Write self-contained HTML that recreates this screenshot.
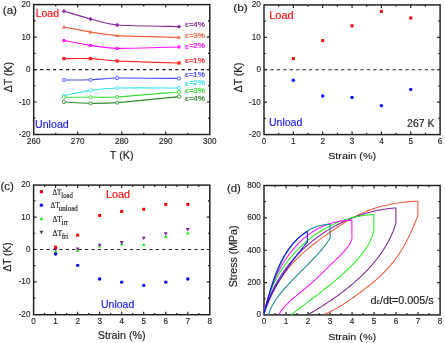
<!DOCTYPE html>
<html><head><meta charset="utf-8"><style>
html,body{margin:0;padding:0;background:#fff;width:445px;height:343px;overflow:hidden}
svg{display:block;will-change:transform}
</style></head><body>
<svg width="445" height="343" viewBox="0 0 445 343">
<rect width="445" height="343" fill="#fff"/>
<rect x="33.7" y="4.6" width="176.1" height="129.9" fill="none" stroke="#1e1e1e" stroke-width="1.45"/>
<path d="M77.73 134.5v-3M77.73 4.6v3M121.75 134.5v-3M121.75 4.6v3M165.78 134.5v-3M165.78 4.6v3M55.71 134.5v-1.8M55.71 4.6v1.8M99.74 134.5v-1.8M99.74 4.6v1.8M143.76 134.5v-1.8M143.76 4.6v1.8M187.79 134.5v-1.8M187.79 4.6v1.8M33.7 102.03h3M209.8 102.03h-3M33.7 69.55h3M209.8 69.55h-3M33.7 37.08h3M209.8 37.08h-3M33.7 118.26h1.8M209.8 118.26h-1.8M33.7 85.79h1.8M209.8 85.79h-1.8M33.7 53.31h1.8M209.8 53.31h-1.8M33.7 20.84h1.8M209.8 20.84h-1.8" stroke="#1e1e1e" stroke-width="1.15" fill="none"/>
<path d="M33.7 69.55H209.8" stroke="#1e1e1e" stroke-width="1.15" stroke-dasharray="3.2 3.23"/>
<path d="M63.9 11.2C67 12.11 84.28 17.39 90.5 19C96.72 20.61 106.88 24.11 117.2 25C127.53 25.89 171.79 26.41 179 26.6" fill="none" stroke="#8a28a0" stroke-width="1.15"/>
<path d="M63.9 9.05L66.05 11.2L63.9 13.34L61.75 11.2Z" fill="#8a28a0"/>
<path d="M90.5 16.86L92.64 19L90.5 21.14L88.36 19Z" fill="#8a28a0"/>
<path d="M117.2 22.86L119.34 25L117.2 27.14L115.06 25Z" fill="#8a28a0"/>
<path d="M179 24.46L181.15 26.6L179 28.75L176.85 26.6Z" fill="#8a28a0"/>
<path d="M63.9 27C67 27.58 84.28 31 90.5 32C96.72 33 106.88 34.97 117.2 35.6C127.53 36.23 171.79 37.19 179 37.4" fill="none" stroke="#f0603a" stroke-width="1.15"/>
<path d="M63.9 25.1L65.8 28.4L62 28.4Z" fill="#f0603a"/>
<path d="M90.5 30.1L92.4 33.4L88.6 33.4Z" fill="#f0603a"/>
<path d="M117.2 33.7L119.1 37L115.3 37Z" fill="#f0603a"/>
<path d="M179 35.5L180.9 38.8L177.1 38.8Z" fill="#f0603a"/>
<path d="M63.9 40.4C67 40.98 84.28 44.47 90.5 45.4C96.72 46.33 106.88 48.21 117.2 48.4C127.53 48.59 171.79 47.16 179 47" fill="none" stroke="#ff10ff" stroke-width="1.15"/>
<circle cx="63.9" cy="40.4" r="1.65" fill="#ff10ff"/>
<circle cx="90.5" cy="45.4" r="1.65" fill="#ff10ff"/>
<circle cx="117.2" cy="48.4" r="1.65" fill="#ff10ff"/>
<circle cx="179" cy="47" r="1.65" fill="#ff10ff"/>
<path d="M63.9 58.6C67 58.6 84.28 58.32 90.5 58.6C96.72 58.88 106.88 60.49 117.2 61C127.53 61.51 171.79 62.77 179 63" fill="none" stroke="#ff2020" stroke-width="1.15"/>
<rect x="62.25" y="56.95" width="3.3" height="3.3" fill="#ff2020"/>
<rect x="88.85" y="56.95" width="3.3" height="3.3" fill="#ff2020"/>
<rect x="115.55" y="59.35" width="3.3" height="3.3" fill="#ff2020"/>
<rect x="177.35" y="61.35" width="3.3" height="3.3" fill="#ff2020"/>
<path d="M63.9 80C67 79.98 84.28 80.03 90.5 79.8C96.72 79.57 106.88 78.16 117.2 78C127.53 77.84 171.79 78.35 179 78.4" fill="none" stroke="#4848ff" stroke-width="1.15"/>
<circle cx="63.9" cy="80" r="1.6" fill="#fff" stroke="#4848ff" stroke-width="0.9"/>
<circle cx="90.5" cy="79.8" r="1.6" fill="#fff" stroke="#4848ff" stroke-width="0.9"/>
<circle cx="117.2" cy="78" r="1.6" fill="#fff" stroke="#4848ff" stroke-width="0.9"/>
<circle cx="179" cy="78.4" r="1.6" fill="#fff" stroke="#4848ff" stroke-width="0.9"/>
<path d="M63.9 95.6C67 94.99 84.28 91.29 90.5 90.4C96.72 89.51 106.88 88.28 117.2 88C127.53 87.72 171.79 88 179 88" fill="none" stroke="#38e0f0" stroke-width="1.15"/>
<circle cx="63.9" cy="95.6" r="1.6" fill="#fff" stroke="#38e0f0" stroke-width="0.9"/>
<circle cx="90.5" cy="90.4" r="1.6" fill="#fff" stroke="#38e0f0" stroke-width="0.9"/>
<circle cx="117.2" cy="88" r="1.6" fill="#fff" stroke="#38e0f0" stroke-width="0.9"/>
<circle cx="179" cy="88" r="1.6" fill="#fff" stroke="#38e0f0" stroke-width="0.9"/>
<path d="M63.9 97.2C67 97.2 84.28 97.22 90.5 97.2C96.72 97.18 106.88 97.61 117.2 97C127.53 96.39 171.79 92.58 179 92" fill="none" stroke="#38dd38" stroke-width="1.15"/>
<circle cx="63.9" cy="97.2" r="1.6" fill="#fff" stroke="#38dd38" stroke-width="0.9"/>
<circle cx="90.5" cy="97.2" r="1.6" fill="#fff" stroke="#38dd38" stroke-width="0.9"/>
<circle cx="117.2" cy="97" r="1.6" fill="#fff" stroke="#38dd38" stroke-width="0.9"/>
<circle cx="179" cy="92" r="1.6" fill="#fff" stroke="#38dd38" stroke-width="0.9"/>
<path d="M63.9 102C67 102.16 84.28 103.33 90.5 103.4C96.72 103.47 106.88 103.39 117.2 102.6C127.53 101.81 171.79 97.3 179 96.6" fill="none" stroke="#2e8b2e" stroke-width="1.15"/>
<circle cx="63.9" cy="102" r="1.6" fill="#fff" stroke="#2e8b2e" stroke-width="0.9"/>
<circle cx="90.5" cy="103.4" r="1.6" fill="#fff" stroke="#2e8b2e" stroke-width="0.9"/>
<circle cx="117.2" cy="102.6" r="1.6" fill="#fff" stroke="#2e8b2e" stroke-width="0.9"/>
<circle cx="179" cy="96.6" r="1.6" fill="#fff" stroke="#2e8b2e" stroke-width="0.9"/>
<rect x="264" y="4.9" width="176.1" height="129.7" fill="none" stroke="#1e1e1e" stroke-width="1.45"/>
<path d="M293.35 134.6v-3M293.35 4.9v3M322.7 134.6v-3M322.7 4.9v3M352.05 134.6v-3M352.05 4.9v3M381.4 134.6v-3M381.4 4.9v3M410.75 134.6v-3M410.75 4.9v3M278.68 134.6v-1.8M278.68 4.9v1.8M308.02 134.6v-1.8M308.02 4.9v1.8M337.38 134.6v-1.8M337.38 4.9v1.8M366.73 134.6v-1.8M366.73 4.9v1.8M396.08 134.6v-1.8M396.08 4.9v1.8M425.43 134.6v-1.8M425.43 4.9v1.8M264 102.17h3M440.1 102.17h-3M264 69.75h3M440.1 69.75h-3M264 37.33h3M440.1 37.33h-3M264 118.39h1.8M440.1 118.39h-1.8M264 85.96h1.8M440.1 85.96h-1.8M264 53.54h1.8M440.1 53.54h-1.8M264 21.11h1.8M440.1 21.11h-1.8" stroke="#1e1e1e" stroke-width="1.15" fill="none"/>
<path d="M264 69.75H440.1" stroke="#1e1e1e" stroke-width="1.15" stroke-dasharray="3.2 3.23"/>
<rect x="291.85" y="57.1" width="3" height="3" fill="#ff0000"/>
<rect x="321.2" y="39.1" width="3" height="3" fill="#ff0000"/>
<rect x="350.55" y="24.3" width="3" height="3" fill="#ff0000"/>
<rect x="379.9" y="9.9" width="3" height="3" fill="#ff0000"/>
<rect x="409.25" y="16.5" width="3" height="3" fill="#ff0000"/>
<circle cx="293.35" cy="80.2" r="1.7" fill="#0000ff"/>
<circle cx="322.7" cy="96" r="1.7" fill="#0000ff"/>
<circle cx="352.05" cy="97.4" r="1.7" fill="#0000ff"/>
<circle cx="381.4" cy="105.6" r="1.7" fill="#0000ff"/>
<circle cx="410.75" cy="89.4" r="1.7" fill="#0000ff"/>
<rect x="33.6" y="185.1" width="176.2" height="129.6" fill="none" stroke="#1e1e1e" stroke-width="1.45"/>
<path d="M55.62 314.7v-3M55.62 185.1v3M77.65 314.7v-3M77.65 185.1v3M99.68 314.7v-3M99.68 185.1v3M121.7 314.7v-3M121.7 185.1v3M143.73 314.7v-3M143.73 185.1v3M165.75 314.7v-3M165.75 185.1v3M187.78 314.7v-3M187.78 185.1v3M44.61 314.7v-1.8M44.61 185.1v1.8M66.64 314.7v-1.8M66.64 185.1v1.8M88.66 314.7v-1.8M88.66 185.1v1.8M110.69 314.7v-1.8M110.69 185.1v1.8M132.71 314.7v-1.8M132.71 185.1v1.8M154.74 314.7v-1.8M154.74 185.1v1.8M176.76 314.7v-1.8M176.76 185.1v1.8M198.79 314.7v-1.8M198.79 185.1v1.8M33.6 281.85h3M209.8 281.85h-3M33.6 249.45h3M209.8 249.45h-3M33.6 217.05h3M209.8 217.05h-3M33.6 298.05h1.8M209.8 298.05h-1.8M33.6 265.65h1.8M209.8 265.65h-1.8M33.6 233.25h1.8M209.8 233.25h-1.8M33.6 200.85h1.8M209.8 200.85h-1.8" stroke="#1e1e1e" stroke-width="1.15" fill="none"/>
<path d="M33.6 249.45H209.8" stroke="#1e1e1e" stroke-width="1.15" stroke-dasharray="3.2 3.23"/>
<path d="M55.62 249.17L57.52 252.47L53.73 252.47Z" fill="#22ee22"/>
<path d="M55.62 251.35L57.52 248.05L53.73 248.05Z" fill="#7a1a8a"/>
<rect x="54.12" y="245.68" width="3" height="3" fill="#ff0000"/>
<circle cx="55.62" cy="253.99" r="1.7" fill="#0000ff"/>
<path d="M77.65 248.52L79.55 251.82L75.75 251.82Z" fill="#22ee22"/>
<path d="M77.65 250.7L79.55 247.4L75.75 247.4Z" fill="#7a1a8a"/>
<rect x="76.15" y="233.69" width="3" height="3" fill="#ff0000"/>
<circle cx="77.65" cy="265.33" r="1.7" fill="#0000ff"/>
<path d="M99.68 244.31L101.57 247.61L97.78 247.61Z" fill="#22ee22"/>
<path d="M99.68 246.97L101.57 243.67L97.78 243.67Z" fill="#7a1a8a"/>
<rect x="98.18" y="213.93" width="3" height="3" fill="#ff0000"/>
<circle cx="99.68" cy="278.93" r="1.7" fill="#0000ff"/>
<path d="M121.7 242.17L123.6 245.47L119.8 245.47Z" fill="#22ee22"/>
<path d="M121.7 244.38L123.6 241.08L119.8 241.08Z" fill="#7a1a8a"/>
<rect x="120.2" y="210.04" width="3" height="3" fill="#ff0000"/>
<circle cx="121.7" cy="282.17" r="1.7" fill="#0000ff"/>
<path d="M143.73 242.69L145.62 245.99L141.83 245.99Z" fill="#22ee22"/>
<path d="M143.73 240.01L145.62 236.71L141.83 236.71Z" fill="#7a1a8a"/>
<rect x="142.23" y="207.77" width="3" height="3" fill="#ff0000"/>
<circle cx="143.73" cy="285.41" r="1.7" fill="#0000ff"/>
<path d="M165.75 234.59L167.65 237.89L163.85 237.89Z" fill="#22ee22"/>
<path d="M165.75 235.47L167.65 232.17L163.85 232.17Z" fill="#7a1a8a"/>
<rect x="164.25" y="202.91" width="3" height="3" fill="#ff0000"/>
<circle cx="165.75" cy="282.17" r="1.7" fill="#0000ff"/>
<path d="M187.78 231.19L189.67 234.49L185.88 234.49Z" fill="#22ee22"/>
<path d="M187.78 231.42L189.67 228.12L185.88 228.12Z" fill="#7a1a8a"/>
<rect x="186.28" y="202.91" width="3" height="3" fill="#ff0000"/>
<circle cx="187.78" cy="278.93" r="1.7" fill="#0000ff"/>
<rect x="39.8" y="190.1" width="3.2" height="3.2" fill="#ff0000"/>
<circle cx="41.4" cy="205.2" r="1.7" fill="#0000ff"/>
<path d="M41.4 216.84L43.35 220.25L39.45 220.25Z" fill="#22ee22"/>
<path d="M41.4 234.26L43.35 230.86L39.45 230.86Z" fill="#7a1a8a"/>
<rect x="264" y="185.5" width="176.1" height="129.4" fill="none" stroke="#1e1e1e" stroke-width="1.45"/>
<path d="M286.01 314.9v-3M286.01 185.5v3M308.02 314.9v-3M308.02 185.5v3M330.04 314.9v-3M330.04 185.5v3M352.05 314.9v-3M352.05 185.5v3M374.06 314.9v-3M374.06 185.5v3M396.08 314.9v-3M396.08 185.5v3M418.09 314.9v-3M418.09 185.5v3M275.01 314.9v-1.8M275.01 185.5v1.8M297.02 314.9v-1.8M297.02 185.5v1.8M319.03 314.9v-1.8M319.03 185.5v1.8M341.04 314.9v-1.8M341.04 185.5v1.8M363.06 314.9v-1.8M363.06 185.5v1.8M385.07 314.9v-1.8M385.07 185.5v1.8M407.08 314.9v-1.8M407.08 185.5v1.8M429.09 314.9v-1.8M429.09 185.5v1.8M264 282.55h3M440.1 282.55h-3M264 250.2h3M440.1 250.2h-3M264 217.85h3M440.1 217.85h-3M264 298.72h1.8M440.1 298.72h-1.8M264 266.38h1.8M440.1 266.38h-1.8M264 234.02h1.8M440.1 234.02h-1.8M264 201.68h1.8M440.1 201.68h-1.8" stroke="#1e1e1e" stroke-width="1.15" fill="none"/>
<path d="M263.8 314.6L264.21 313.4L264.63 312.2L265.06 311.01L265.49 309.81L265.94 308.62L266.39 307.43L266.86 306.24L267.33 305.05L267.81 303.86L268.3 302.68L268.8 301.5L269.31 300.32L269.82 299.15L270.35 297.98L270.89 296.81L271.43 295.65L271.99 294.49L272.55 293.34L273.12 292.19L273.7 291.05L274.3 289.91L274.9 288.77L275.51 287.64L276.13 286.52L276.76 285.4L277.4 284.29L278.05 283.19L278.71 282.09L279.38 281L280.06 279.91L280.75 278.83L281.44 277.76L282.15 276.7L282.87 275.65L283.6 274.6L284.34 273.56L285.09 272.53L285.84 271.51L286.61 270.5L287.39 269.49L288.18 268.5L288.98 267.51L289.79 266.54L290.61 265.57L291.44 264.62L292.28 263.67L293.13 262.73L293.98 261.81L294.85 260.89L295.73 259.97L296.61 259.07L297.5 258.18L298.4 257.29L299.31 256.41L300.23 255.54L301.16 254.67L302.09 253.82L303.03 252.97L303.97 252.12L304.93 251.29L305.89 250.46L306.85 249.63L307.82 248.81L308.8 248L309.79 247.2L310.78 246.4L311.77 245.6L312.77 244.81L313.78 244.03L314.79 243.25L315.8 242.47L316.82 241.7L317.84 240.93L318.87 240.17L319.9 239.41L320.94 238.66L321.97 237.91L323.02 237.16L324.06 236.41L325.11 235.67L326.15 234.93L327.21 234.2L328.26 233.46L329.32 232.73L330.37 232L331.43 231.28L332.5 230.56L333.56 229.84L334.63 229.12L335.7 228.41L336.77 227.7L337.84 226.99L338.91 226.29L339.99 225.59L341.06 224.9L342.14 224.21L343.22 223.52L344.3 222.84L345.39 222.16L346.48 221.5L347.57 220.84L348.66 220.18L349.76 219.54L350.86 218.9L351.97 218.27L353.07 217.65L354.19 217.05L355.3 216.45L356.42 215.86L357.55 215.29L358.68 214.73L359.82 214.18L360.96 213.64L362.1 213.12L363.25 212.61L364.41 212.11L365.57 211.63L366.73 211.15L367.9 210.69L369.08 210.25L370.26 209.81L371.44 209.39L372.63 208.97L373.82 208.57L375.02 208.19L376.22 207.81L377.42 207.44L378.63 207.09L379.84 206.75L381.06 206.42L382.28 206.1L383.51 205.79L384.74 205.49L385.97 205.2L387.21 204.93L388.45 204.66L389.69 204.4L390.93 204.16L392.19 203.92L393.44 203.7L394.7 203.48L395.96 203.28L397.22 203.08L398.48 202.9L399.75 202.72L401.03 202.55L402.3 202.4L403.58 202.25L404.86 202.11L406.14 201.98L407.43 201.86L408.72 201.75L410.01 201.64L411.3 201.55L412.6 201.46L413.89 201.39L415.19 201.32L416.5 201.25L417.8 201.2L417.8 201.2L417.8 216L417.22 217.43L416.64 218.86L416.06 220.29L415.47 221.72L414.88 223.14L414.28 224.57L413.68 226L413.07 227.43L412.45 228.86L411.82 230.29L411.18 231.72L410.53 233.15L409.87 234.58L409.19 236.01L408.5 237.43L407.79 238.86L407.06 240.29L406.32 241.72L405.55 243.15L404.77 244.58L403.97 246.01L403.14 247.44L402.29 248.87L401.42 250.3L400.52 251.72L399.59 253.15L398.64 254.58L397.65 256.01L396.64 257.44L395.6 258.87L394.53 260.3L393.42 261.73L392.28 263.16L391.1 264.59L389.89 266.01L388.64 267.44L387.36 268.87L386.03 270.3L384.66 271.73L383.26 273.16L381.81 274.59L380.32 276.02L378.78 277.45L377.2 278.88L375.57 280.3L373.89 281.73L372.17 283.16L370.4 284.59L368.59 286.02L366.76 287.45L364.9 288.88L363.02 290.31L361.13 291.74L359.23 293.17L357.31 294.59L355.37 296.02L353.39 297.45L351.38 298.88L349.34 300.31L347.24 301.74L345.09 303.17L342.85 304.6L340.53 306.03L338.1 307.46L335.54 308.88L332.85 310.31L330.01 311.74L327 313.17L323.8 314.6" fill="none" stroke="#f05a38" stroke-width="1.05" stroke-linejoin="round"/>
<path d="M263.8 314.6L264.09 313.48L264.39 312.36L264.69 311.25L265.01 310.14L265.34 309.03L265.67 307.93L266.02 306.84L266.38 305.74L266.74 304.66L267.12 303.57L267.5 302.49L267.89 301.42L268.3 300.35L268.71 299.28L269.13 298.22L269.56 297.16L270 296.1L270.45 295.06L270.91 294.01L271.38 292.97L271.85 291.94L272.34 290.91L272.83 289.88L273.33 288.86L273.84 287.84L274.36 286.83L274.89 285.82L275.42 284.82L275.97 283.83L276.52 282.83L277.08 281.85L277.65 280.86L278.23 279.89L278.81 278.92L279.4 277.95L280 276.99L280.61 276.03L281.23 275.08L281.86 274.13L282.49 273.19L283.13 272.25L283.78 271.32L284.43 270.4L285.09 269.48L285.76 268.56L286.44 267.65L287.13 266.75L287.82 265.85L288.52 264.96L289.22 264.07L289.94 263.19L290.66 262.32L291.38 261.45L292.12 260.58L292.86 259.72L293.61 258.87L294.36 258.02L295.12 257.18L295.89 256.34L296.67 255.51L297.45 254.69L298.23 253.87L299.03 253.06L299.83 252.26L300.63 251.46L301.45 250.66L302.27 249.87L303.09 249.09L303.92 248.32L304.76 247.55L305.6 246.79L306.45 246.03L307.3 245.28L308.16 244.53L309.03 243.8L309.9 243.07L310.78 242.34L311.66 241.62L312.55 240.91L313.44 240.21L314.34 239.51L315.24 238.81L316.15 238.13L317.06 237.45L317.98 236.78L318.91 236.11L319.83 235.45L320.77 234.8L321.71 234.16L322.65 233.52L323.6 232.89L324.55 232.26L325.51 231.65L326.47 231.04L327.44 230.43L328.41 229.84L329.38 229.25L330.36 228.67L331.35 228.09L332.33 227.52L333.33 226.96L334.32 226.41L335.32 225.86L336.33 225.32L337.33 224.79L338.34 224.27L339.36 223.75L340.38 223.24L341.4 222.74L342.43 222.25L343.46 221.76L344.49 221.28L345.53 220.81L346.57 220.35L347.61 219.89L348.66 219.44L349.71 219L350.76 218.57L351.82 218.14L352.88 217.72L353.94 217.31L355.01 216.91L356.07 216.52L357.14 216.13L358.22 215.76L359.29 215.39L360.37 215.02L361.45 214.67L362.54 214.33L363.62 213.99L364.71 213.66L365.8 213.34L366.89 213.03L367.99 212.72L369.09 212.43L370.19 212.14L371.29 211.86L372.39 211.59L373.49 211.32L374.6 211.07L375.71 210.83L376.82 210.59L377.93 210.36L379.05 210.14L380.16 209.93L381.28 209.73L382.4 209.53L383.51 209.35L384.64 209.17L385.76 209L386.88 208.85L388 208.7L389.13 208.56L390.26 208.42L391.38 208.3L392.51 208.19L393.64 208.08L394.77 207.99L395.9 207.9L395.9 207.9L395.9 223.2L395.48 224.52L395.05 225.85L394.6 227.17L394.12 228.5L393.62 229.82L393.11 231.15L392.56 232.47L392 233.8L391.42 235.12L390.81 236.45L390.18 237.77L389.53 239.1L388.85 240.42L388.16 241.74L387.43 243.07L386.69 244.39L385.92 245.72L385.13 247.04L384.31 248.37L383.47 249.69L382.6 251.02L381.71 252.34L380.79 253.67L379.85 254.99L378.89 256.32L377.89 257.64L376.88 258.97L375.83 260.29L374.76 261.61L373.66 262.94L372.54 264.26L371.39 265.59L370.21 266.91L369.01 268.24L367.77 269.56L366.51 270.89L365.23 272.21L363.91 273.54L362.57 274.86L361.19 276.19L359.79 277.51L358.36 278.83L356.9 280.16L355.42 281.48L353.9 282.81L352.35 284.13L350.77 285.46L349.16 286.78L347.53 288.11L345.86 289.43L344.16 290.76L342.43 292.08L340.67 293.41L338.88 294.73L337.05 296.06L335.2 297.38L333.31 298.7L331.39 300.03L329.44 301.35L327.45 302.68L325.43 304L323.38 305.33L321.3 306.65L319.18 307.98L317.03 309.3L314.85 310.63L312.63 311.95L310.38 313.28L308.09 314.6" fill="none" stroke="#80209a" stroke-width="1.05" stroke-linejoin="round"/>
<path d="M263.8 314.6L263.99 313.6L264.19 312.59L264.39 311.59L264.61 310.6L264.83 309.6L265.06 308.61L265.3 307.62L265.54 306.63L265.8 305.64L266.06 304.66L266.33 303.68L266.61 302.7L266.9 301.72L267.19 300.75L267.49 299.78L267.8 298.81L268.12 297.85L268.45 296.89L268.78 295.93L269.12 294.98L269.47 294.02L269.83 293.08L270.2 292.13L270.57 291.19L270.95 290.25L271.33 289.31L271.73 288.38L272.13 287.45L272.54 286.53L272.96 285.61L273.38 284.69L273.81 283.77L274.25 282.86L274.7 281.96L275.15 281.05L275.61 280.15L276.08 279.26L276.55 278.37L277.03 277.48L277.52 276.6L278.01 275.72L278.51 274.84L279.02 273.97L279.54 273.11L280.06 272.24L280.59 271.39L281.12 270.53L281.67 269.68L282.21 268.84L282.77 268L283.33 267.16L283.9 266.33L284.47 265.51L285.05 264.68L285.64 263.87L286.23 263.06L286.83 262.25L287.44 261.45L288.05 260.65L288.67 259.86L289.3 259.07L289.93 258.29L290.56 257.51L291.2 256.74L291.85 255.97L292.51 255.21L293.17 254.46L293.83 253.71L294.51 252.96L295.18 252.22L295.87 251.49L296.56 250.76L297.25 250.04L297.95 249.32L298.66 248.61L299.37 247.91L300.08 247.21L300.81 246.52L301.53 245.83L302.27 245.15L303.01 244.47L303.75 243.8L304.5 243.14L305.25 242.48L306.01 241.83L306.78 241.19L307.55 240.55L308.32 239.92L309.1 239.3L309.89 238.68L310.67 238.06L311.47 237.46L312.27 236.86L313.07 236.27L313.88 235.68L314.7 235.11L315.51 234.53L316.34 233.97L317.16 233.41L318 232.86L318.83 232.32L319.67 231.78L320.52 231.25L321.37 230.73L322.22 230.21L323.08 229.71L323.95 229.21L324.81 228.71L325.69 228.23L326.56 227.75L327.44 227.28L328.33 226.81L329.21 226.36L330.11 225.91L331 225.47L331.9 225.04L332.81 224.61L333.72 224.2L334.63 223.79L335.54 223.39L336.46 223L337.39 222.61L338.31 222.24L339.24 221.87L340.18 221.51L341.11 221.15L342.06 220.81L343 220.48L343.95 220.15L344.9 219.83L345.86 219.52L346.81 219.22L347.77 218.93L348.74 218.64L349.71 218.37L350.68 218.1L351.65 217.84L352.63 217.6L353.61 217.36L354.59 217.12L355.58 216.9L356.57 216.69L357.56 216.49L358.56 216.29L359.56 216.11L360.56 215.93L361.56 215.76L362.57 215.6L363.58 215.46L364.59 215.32L365.6 215.19L366.62 215.07L367.64 214.96L368.66 214.86L369.68 214.77L370.71 214.69L371.74 214.61L372.77 214.55L373.8 214.5L373.8 214.5L373.8 230.4L373.55 231.62L373.26 232.84L372.92 234.06L372.55 235.28L372.13 236.5L371.67 237.72L371.18 238.94L370.64 240.16L370.07 241.38L369.45 242.6L368.8 243.82L368.11 245.04L367.39 246.26L366.63 247.48L365.84 248.7L365.01 249.92L364.15 251.14L363.26 252.37L362.34 253.59L361.38 254.81L360.4 256.03L359.38 257.25L358.34 258.47L357.27 259.69L356.17 260.91L355.04 262.13L353.89 263.35L352.71 264.57L351.51 265.79L350.28 267.01L349.03 268.23L347.76 269.45L346.47 270.67L345.15 271.89L343.81 273.11L342.46 274.33L341.08 275.55L339.69 276.77L338.28 277.99L336.85 279.21L335.41 280.43L333.95 281.65L332.47 282.87L330.98 284.09L329.48 285.31L327.97 286.53L326.44 287.75L324.9 288.97L323.35 290.19L321.79 291.41L320.22 292.63L318.64 293.86L317.06 295.08L315.47 296.3L313.87 297.52L312.26 298.74L310.65 299.96L309.04 301.18L307.42 302.4L305.8 303.62L304.18 304.84L302.55 306.06L300.93 307.28L299.3 308.5L297.67 309.72L296.05 310.94L294.43 312.16L292.81 313.38L291.19 314.6" fill="none" stroke="#22ee22" stroke-width="1.05" stroke-linejoin="round"/>
<path d="M263.8 314.6L263.97 313.76L264.13 312.93L264.31 312.09L264.48 311.25L264.67 310.4L264.85 309.56L265.05 308.72L265.24 307.87L265.44 307.03L265.65 306.18L265.86 305.34L266.08 304.49L266.3 303.65L266.52 302.8L266.75 301.95L266.99 301.1L267.23 300.26L267.47 299.41L267.72 298.56L267.98 297.72L268.24 296.87L268.5 296.02L268.77 295.18L269.04 294.33L269.32 293.49L269.6 292.64L269.89 291.8L270.18 290.96L270.48 290.12L270.78 289.28L271.09 288.44L271.4 287.6L271.72 286.77L272.04 285.93L272.37 285.1L272.7 284.27L273.04 283.44L273.38 282.61L273.72 281.78L274.07 280.96L274.43 280.13L274.79 279.31L275.16 278.49L275.53 277.68L275.9 276.86L276.28 276.05L276.67 275.24L277.06 274.44L277.45 273.63L277.85 272.83L278.26 272.03L278.67 271.24L279.08 270.45L279.5 269.66L279.93 268.87L280.36 268.09L280.79 267.31L281.23 266.53L281.68 265.76L282.12 264.99L282.58 264.22L283.04 263.46L283.5 262.7L283.97 261.95L284.45 261.2L284.93 260.45L285.41 259.71L285.9 258.97L286.39 258.24L286.89 257.51L287.4 256.78L287.91 256.06L288.42 255.35L288.94 254.64L289.46 253.93L289.99 253.23L290.53 252.53L291.07 251.84L291.61 251.16L292.16 250.48L292.71 249.8L293.27 249.13L293.84 248.47L294.41 247.81L294.98 247.15L295.56 246.51L296.15 245.87L296.74 245.23L297.33 244.6L297.93 243.98L298.54 243.36L299.15 242.75L299.76 242.14L300.38 241.54L301.01 240.95L301.64 240.36L302.27 239.78L302.91 239.21L303.56 238.65L304.21 238.09L304.87 237.54L305.53 236.99L306.19 236.45L306.86 235.92L307.54 235.4L308.22 234.88L308.91 234.38L309.6 233.87L310.3 233.38L311 232.9L311.71 232.42L312.42 231.95L313.14 231.49L313.86 231.03L314.59 230.59L315.32 230.15L316.06 229.72L316.8 229.3L317.55 228.89L318.31 228.49L319.07 228.09L319.83 227.7L320.6 227.33L321.38 226.96L322.16 226.6L322.94 226.25L323.73 225.91L324.53 225.57L325.33 225.25L326.13 224.94L326.94 224.63L327.76 224.34L328.58 224.05L329.41 223.78L330.24 223.51L331.08 223.26L331.92 223.01L332.77 222.78L333.62 222.55L334.48 222.34L335.35 222.13L336.22 221.94L337.09 221.75L337.97 221.58L338.86 221.42L339.75 221.27L340.64 221.12L341.54 220.99L342.45 220.87L343.36 220.77L344.28 220.67L345.2 220.58L346.13 220.51L347.06 220.44L348 220.39L348.94 220.35L349.89 220.32L350.84 220.31L351.8 220.3L351.8 220.3L352 238.3L351.72 239.41L351.35 240.51L350.91 241.62L350.38 242.72L349.79 243.83L349.13 244.93L348.4 246.04L347.62 247.15L346.78 248.25L345.89 249.36L344.96 250.46L343.98 251.57L342.97 252.68L341.92 253.78L340.84 254.89L339.74 255.99L338.62 257.1L337.48 258.2L336.32 259.31L335.16 260.42L334 261.52L332.83 262.63L331.67 263.73L330.52 264.84L329.39 265.94L328.26 267.05L327.14 268.16L326.03 269.26L324.92 270.37L323.81 271.47L322.7 272.58L321.59 273.69L320.47 274.79L319.34 275.9L318.2 277L317.04 278.11L315.87 279.21L314.67 280.32L313.45 281.43L312.21 282.53L310.94 283.64L309.65 284.74L308.33 285.85L307 286.96L305.66 288.06L304.3 289.17L302.95 290.27L301.59 291.38L300.23 292.48L298.87 293.59L297.53 294.7L296.2 295.8L294.88 296.91L293.59 298.01L292.32 299.12L291.08 300.22L289.87 301.33L288.69 302.44L287.56 303.54L286.46 304.65L285.42 305.75L284.42 306.86L283.46 307.97L282.56 309.07L281.72 310.18L280.93 311.28L280.19 312.39L279.52 313.49L278.9 314.6" fill="none" stroke="#ff10ff" stroke-width="1.05" stroke-linejoin="round"/>
<path d="M263.8 314.6L263.98 313.94L264.17 313.27L264.36 312.6L264.54 311.93L264.73 311.26L264.92 310.58L265.11 309.89L265.3 309.2L265.49 308.51L265.68 307.82L265.87 307.12L266.07 306.42L266.26 305.72L266.46 305.01L266.66 304.3L266.86 303.59L267.06 302.87L267.26 302.16L267.47 301.44L267.67 300.71L267.88 299.99L268.09 299.26L268.3 298.54L268.51 297.8L268.72 297.07L268.94 296.34L269.16 295.6L269.37 294.87L269.6 294.13L269.82 293.39L270.04 292.65L270.27 291.9L270.5 291.16L270.73 290.42L270.96 289.67L271.2 288.93L271.43 288.18L271.67 287.43L271.92 286.69L272.16 285.94L272.41 285.19L272.66 284.44L272.91 283.69L273.16 282.95L273.42 282.2L273.68 281.45L273.94 280.7L274.2 279.96L274.47 279.21L274.74 278.47L275.01 277.72L275.29 276.98L275.57 276.24L275.85 275.5L276.13 274.76L276.42 274.02L276.71 273.28L277 272.54L277.3 271.81L277.6 271.08L277.9 270.34L278.21 269.62L278.52 268.89L278.83 268.16L279.15 267.44L279.47 266.72L279.79 266L280.11 265.29L280.45 264.57L280.78 263.86L281.12 263.16L281.46 262.45L281.8 261.75L282.15 261.05L282.5 260.36L282.86 259.67L283.22 258.98L283.58 258.29L283.95 257.61L284.32 256.93L284.7 256.26L285.08 255.59L285.47 254.93L285.85 254.26L286.25 253.61L286.64 252.95L287.05 252.31L287.45 251.66L287.86 251.02L288.28 250.39L288.69 249.76L289.12 249.13L289.55 248.51L289.98 247.9L290.42 247.29L290.86 246.68L291.31 246.09L291.76 245.49L292.21 244.9L292.68 244.32L293.14 243.75L293.61 243.18L294.09 242.61L294.57 242.05L295.06 241.5L295.55 240.96L296.05 240.42L296.55 239.89L297.05 239.36L297.57 238.84L298.08 238.33L298.61 237.82L299.14 237.33L299.67 236.84L300.21 236.35L300.75 235.88L301.3 235.41L301.86 234.95L302.42 234.49L302.99 234.05L303.56 233.61L304.14 233.18L304.73 232.76L305.32 232.35L305.91 231.95L306.52 231.55L307.12 231.17L307.74 230.79L308.36 230.42L308.99 230.06L309.62 229.71L310.26 229.37L310.9 229.04L311.55 228.72L312.21 228.41L312.88 228.11L313.55 227.82L314.22 227.54L314.91 227.27L315.6 227.01L316.29 226.76L317 226.52L317.71 226.29L318.42 226.07L319.15 225.86L319.88 225.67L320.61 225.49L321.36 225.31L322.11 225.15L322.87 225L323.63 224.86L324.4 224.74L325.18 224.62L325.97 224.52L326.76 224.43L327.56 224.35L328.36 224.29L329.18 224.24L330 224.2L330 224.2L330.2 238L329.52 239.11L328.81 240.22L328.06 241.33L327.29 242.44L326.5 243.55L325.67 244.66L324.83 245.77L323.96 246.88L323.06 247.99L322.15 249.1L321.22 250.21L320.26 251.32L319.29 252.43L318.31 253.54L317.3 254.65L316.29 255.76L315.25 256.87L314.21 257.98L313.15 259.09L312.09 260.2L311.01 261.31L309.93 262.42L308.84 263.53L307.74 264.64L306.63 265.75L305.53 266.86L304.42 267.97L303.3 269.08L302.19 270.19L301.07 271.3L299.96 272.41L298.85 273.52L297.74 274.63L296.63 275.74L295.54 276.86L294.44 277.97L293.36 279.08L292.28 280.19L291.21 281.3L290.15 282.41L289.11 283.52L288.07 284.63L287.05 285.74L286.05 286.85L285.06 287.96L284.08 289.07L283.13 290.18L282.19 291.29L281.27 292.4L280.38 293.51L279.5 294.62L278.65 295.73L277.82 296.84L277.02 297.95L276.24 299.06L275.49 300.17L274.77 301.28L274.08 302.39L273.42 303.5L272.79 304.61L272.19 305.72L271.63 306.83L271.1 307.94L270.6 309.05L270.15 310.16L269.73 311.27L269.35 312.38L269 313.49L268.7 314.6" fill="none" stroke="#10888c" stroke-width="1.05" stroke-linejoin="round"/>
<path d="M263.8 314.6L263.94 314.04L264.09 313.48L264.23 312.91L264.38 312.35L264.52 311.78L264.67 311.21L264.82 310.64L264.96 310.07L265.11 309.5L265.26 308.93L265.4 308.35L265.55 307.77L265.7 307.2L265.85 306.62L266 306.04L266.15 305.46L266.3 304.88L266.45 304.3L266.6 303.71L266.75 303.13L266.9 302.54L267.06 301.96L267.21 301.37L267.37 300.78L267.52 300.2L267.68 299.61L267.84 299.02L267.99 298.43L268.15 297.84L268.31 297.25L268.47 296.66L268.64 296.07L268.8 295.47L268.96 294.88L269.13 294.29L269.29 293.7L269.46 293.1L269.63 292.51L269.8 291.92L269.97 291.32L270.14 290.73L270.32 290.14L270.49 289.54L270.67 288.95L270.85 288.36L271.03 287.76L271.21 287.17L271.39 286.58L271.57 285.99L271.76 285.39L271.94 284.8L272.13 284.21L272.32 283.62L272.51 283.03L272.7 282.44L272.9 281.85L273.1 281.26L273.29 280.67L273.49 280.09L273.69 279.5L273.9 278.91L274.1 278.33L274.31 277.74L274.52 277.16L274.73 276.58L274.94 275.99L275.16 275.41L275.38 274.83L275.6 274.25L275.82 273.68L276.04 273.1L276.27 272.52L276.49 271.95L276.72 271.38L276.95 270.81L277.19 270.23L277.43 269.67L277.67 269.1L277.91 268.53L278.15 267.97L278.4 267.4L278.64 266.84L278.9 266.28L279.15 265.72L279.41 265.17L279.66 264.61L279.93 264.06L280.19 263.51L280.46 262.96L280.73 262.41L281 261.86L281.27 261.32L281.55 260.78L281.83 260.24L282.11 259.7L282.4 259.17L282.69 258.63L282.98 258.1L283.27 257.57L283.57 257.05L283.87 256.52L284.17 256L284.48 255.48L284.79 254.96L285.1 254.45L285.42 253.93L285.74 253.42L286.06 252.92L286.38 252.41L286.71 251.91L287.05 251.41L287.38 250.92L287.72 250.42L288.06 249.93L288.41 249.44L288.76 248.96L289.11 248.48L289.46 248L289.82 247.52L290.18 247.05L290.55 246.58L290.92 246.11L291.29 245.65L291.67 245.19L292.05 244.73L292.44 244.27L292.83 243.82L293.22 243.38L293.61 242.93L294.01 242.49L294.42 242.06L294.82 241.62L295.24 241.19L295.65 240.77L296.07 240.34L296.49 239.92L296.92 239.51L297.35 239.1L297.79 238.69L298.23 238.29L298.67 237.89L299.12 237.49L299.57 237.1L300.03 236.71L300.49 236.33L300.95 235.95L301.42 235.57L301.89 235.2L302.37 234.83L302.85 234.47L303.34 234.11L303.83 233.76L304.33 233.41L304.83 233.06L305.33 232.72L305.84 232.38L306.36 232.05L306.88 231.72L307.4 231.4L307.4 231.4L307.4 242L306.53 243.05L305.67 244.1L304.82 245.16L303.96 246.21L303.12 247.26L302.27 248.31L301.43 249.37L300.6 250.42L299.76 251.47L298.94 252.52L298.12 253.57L297.3 254.63L296.49 255.68L295.68 256.73L294.88 257.78L294.09 258.83L293.3 259.89L292.51 260.94L291.74 261.99L290.96 263.04L290.2 264.1L289.44 265.15L288.69 266.2L287.94 267.25L287.21 268.3L286.48 269.36L285.75 270.41L285.04 271.46L284.33 272.51L283.63 273.57L282.93 274.62L282.25 275.67L281.57 276.72L280.9 277.77L280.24 278.83L279.59 279.88L278.94 280.93L278.31 281.98L277.68 283.03L277.07 284.09L276.46 285.14L275.86 286.19L275.27 287.24L274.69 288.3L274.12 289.35L273.57 290.4L273.02 291.45L272.48 292.5L271.95 293.56L271.43 294.61L270.93 295.66L270.43 296.71L269.94 297.77L269.47 298.82L269.01 299.87L268.56 300.92L268.12 301.97L267.69 303.03L267.27 304.08L266.87 305.13L266.48 306.18L266.1 307.23L265.73 308.29L265.38 309.34L265.04 310.39L264.71 311.44L264.39 312.5L264.09 313.55L263.8 314.6" fill="none" stroke="#1414e6" stroke-width="1.05" stroke-linejoin="round"/>
<text transform="translate(109.75 159.47) scale(0.2698 0.2750)" font-size="40" fill="#1e1e1e" stroke="#1e1e1e" stroke-width="0.65" font-family='"Liberation Sans", sans-serif'>T (K)</text>
<text transform="translate(11.78 92.21) rotate(-90) scale(0.2634 0.2750)" font-size="40" fill="#1e1e1e" stroke="#1e1e1e" stroke-width="0.65" font-family='"Liberation Sans", sans-serif'>ΔT (K)</text>
<text transform="translate(2.77 14.31) scale(0.2911 0.2825)" font-size="40" fill="#1e1e1e" stroke="#1e1e1e" stroke-width="0.65" font-family='"Liberation Sans", sans-serif'>(a)</text>
<text transform="translate(35.66 16.89) scale(0.2631 0.2625)" font-size="40" fill="#ff1010" stroke="#ff1010" stroke-width="0.65" font-family='"Liberation Sans", sans-serif'>Load</text>
<text transform="translate(35.02 127.98) scale(0.2659 0.2687)" font-size="40" fill="#2020f0" stroke="#2020f0" stroke-width="0.65" font-family='"Liberation Sans", sans-serif'>Unload</text>
<text transform="translate(185.04 27.48) scale(0.2118 0.1708)" font-size="40" fill="#8a28a0" stroke="#8a28a0" stroke-width="1.2" font-family='"Liberation Sans", sans-serif'>ε</text>
<text transform="translate(188.65 27.06) scale(0.2025 0.1867)" font-size="40" fill="#8a28a0" stroke="#8a28a0" stroke-width="1.3" font-family='"Liberation Sans", sans-serif'>=4%</text>
<text transform="translate(185.04 38.08) scale(0.2118 0.1708)" font-size="40" fill="#f0603a" stroke="#f0603a" stroke-width="1.2" font-family='"Liberation Sans", sans-serif'>ε</text>
<text transform="translate(188.65 37.66) scale(0.2025 0.1867)" font-size="40" fill="#f0603a" stroke="#f0603a" stroke-width="1.3" font-family='"Liberation Sans", sans-serif'>=3%</text>
<text transform="translate(185.04 48.88) scale(0.2118 0.1708)" font-size="40" fill="#ff10ff" stroke="#ff10ff" stroke-width="1.2" font-family='"Liberation Sans", sans-serif'>ε</text>
<text transform="translate(188.65 48.46) scale(0.2025 0.1867)" font-size="40" fill="#ff10ff" stroke="#ff10ff" stroke-width="1.3" font-family='"Liberation Sans", sans-serif'>=2%</text>
<text transform="translate(185.04 63.48) scale(0.2118 0.1708)" font-size="40" fill="#ff2020" stroke="#ff2020" stroke-width="1.2" font-family='"Liberation Sans", sans-serif'>ε</text>
<text transform="translate(188.65 63.06) scale(0.2025 0.1867)" font-size="40" fill="#ff2020" stroke="#ff2020" stroke-width="1.3" font-family='"Liberation Sans", sans-serif'>=1%</text>
<text transform="translate(185.04 77.48) scale(0.2118 0.1708)" font-size="40" fill="#4848ff" stroke="#4848ff" stroke-width="1.2" font-family='"Liberation Sans", sans-serif'>ε</text>
<text transform="translate(188.65 77.06) scale(0.2025 0.1867)" font-size="40" fill="#4848ff" stroke="#4848ff" stroke-width="1.3" font-family='"Liberation Sans", sans-serif'>=1%</text>
<text transform="translate(185.04 85.88) scale(0.2118 0.1708)" font-size="40" fill="#38e0f0" stroke="#38e0f0" stroke-width="1.2" font-family='"Liberation Sans", sans-serif'>ε</text>
<text transform="translate(188.65 85.46) scale(0.2025 0.1867)" font-size="40" fill="#38e0f0" stroke="#38e0f0" stroke-width="1.3" font-family='"Liberation Sans", sans-serif'>=2%</text>
<text transform="translate(185.04 93.48) scale(0.2118 0.1708)" font-size="40" fill="#38dd38" stroke="#38dd38" stroke-width="1.2" font-family='"Liberation Sans", sans-serif'>ε</text>
<text transform="translate(188.65 93.06) scale(0.2025 0.1867)" font-size="40" fill="#38dd38" stroke="#38dd38" stroke-width="1.3" font-family='"Liberation Sans", sans-serif'>=3%</text>
<text transform="translate(185.04 101.08) scale(0.2118 0.1708)" font-size="40" fill="#2e8b2e" stroke="#2e8b2e" stroke-width="1.2" font-family='"Liberation Sans", sans-serif'>ε</text>
<text transform="translate(188.65 100.66) scale(0.2025 0.1867)" font-size="40" fill="#2e8b2e" stroke="#2e8b2e" stroke-width="1.3" font-family='"Liberation Sans", sans-serif'>=4%</text>
<text transform="translate(328.18 159.22) scale(0.2697 0.2475)" font-size="40" fill="#1e1e1e" stroke="#1e1e1e" stroke-width="0.65" font-family='"Liberation Sans", sans-serif'>Strain (%)</text>
<text transform="translate(242.3 92.21) rotate(-90) scale(0.2589 0.2725)" font-size="40" fill="#1e1e1e" stroke="#1e1e1e" stroke-width="0.65" font-family='"Liberation Sans", sans-serif'>ΔT (K)</text>
<text transform="translate(233.15 11.02) scale(0.3000 0.2475)" font-size="40" fill="#1e1e1e" stroke="#1e1e1e" stroke-width="0.65" font-family='"Liberation Sans", sans-serif'>(b)</text>
<text transform="translate(269.23 19.38) scale(0.2750 0.2687)" font-size="40" fill="#ff1010" stroke="#ff1010" stroke-width="0.65" font-family='"Liberation Sans", sans-serif'>Load</text>
<text transform="translate(269.02 125.89) scale(0.2626 0.2594)" font-size="40" fill="#2020f0" stroke="#2020f0" stroke-width="0.65" font-family='"Liberation Sans", sans-serif'>Unload</text>
<text transform="translate(407.09 126.79) scale(0.2615 0.2567)" font-size="40" fill="#1e1e1e" stroke="#1e1e1e" stroke-width="0.65" font-family='"Liberation Sans", sans-serif'>267 K</text>
<text transform="translate(97.68 339.31) scale(0.2703 0.2600)" font-size="40" fill="#1e1e1e" stroke="#1e1e1e" stroke-width="0.65" font-family='"Liberation Sans", sans-serif'>Strain (%)</text>
<text transform="translate(11.18 271.6) rotate(-90) scale(0.2536 0.2750)" font-size="40" fill="#1e1e1e" stroke="#1e1e1e" stroke-width="0.65" font-family='"Liberation Sans", sans-serif'>ΔT (K)</text>
<text transform="translate(0.48 189.97) scale(0.2860 0.2650)" font-size="40" fill="#1e1e1e" stroke="#1e1e1e" stroke-width="0.65" font-family='"Liberation Sans", sans-serif'>(c)</text>
<text transform="translate(105.94 198.1) scale(0.2702 0.2531)" font-size="40" fill="#ff1010" stroke="#ff1010" stroke-width="0.65" font-family='"Liberation Sans", sans-serif'>Load</text>
<text transform="translate(101.02 307.7) scale(0.2626 0.2531)" font-size="40" fill="#2020f0" stroke="#2020f0" stroke-width="0.65" font-family='"Liberation Sans", sans-serif'>Unload</text>
<text transform="translate(52.47 194.96) scale(0.1796 0.1929)" font-size="40" fill="#1e1e1e" stroke="#1e1e1e" stroke-width="0.9" font-family='"Liberation Serif", serif'>ΔT</text>
<text transform="translate(61.25 198.16) scale(0.1696 0.1900)" font-size="40" fill="#1e1e1e" stroke="#1e1e1e" stroke-width="0.9" font-family='"Liberation Serif", serif'>load</text>
<text transform="translate(50.47 208.25) scale(0.1816 0.2036)" font-size="40" fill="#1e1e1e" stroke="#1e1e1e" stroke-width="0.9" font-family='"Liberation Serif", serif'>ΔT</text>
<text transform="translate(58.65 211.16) scale(0.1761 0.1933)" font-size="40" fill="#1e1e1e" stroke="#1e1e1e" stroke-width="0.9" font-family='"Liberation Serif", serif'>unload</text>
<text transform="translate(52.46 222.26) scale(0.1857 0.1929)" font-size="40" fill="#1e1e1e" stroke="#1e1e1e" stroke-width="0.9" font-family='"Liberation Serif", serif'>ΔT</text>
<text transform="translate(61.45 225.16) scale(0.1789 0.1929)" font-size="40" fill="#1e1e1e" stroke="#1e1e1e" stroke-width="0.9" font-family='"Liberation Serif", serif'>irr</text>
<text transform="translate(52.56 235.74) scale(0.1918 0.2143)" font-size="40" fill="#1e1e1e" stroke="#1e1e1e" stroke-width="0.9" font-family='"Liberation Serif", serif'>ΔT</text>
<text transform="translate(61.65 238.94) scale(0.1763 0.2067)" font-size="40" fill="#1e1e1e" stroke="#1e1e1e" stroke-width="0.9" font-family='"Liberation Serif", serif'>fri</text>
<text transform="translate(328.18 339.72) scale(0.2697 0.2475)" font-size="40" fill="#1e1e1e" stroke="#1e1e1e" stroke-width="0.65" font-family='"Liberation Sans", sans-serif'>Strain (%)</text>
<text transform="translate(236.68 287.21) rotate(-90) scale(0.2645 0.2525)" font-size="40" fill="#1e1e1e" stroke="#1e1e1e" stroke-width="0.65" font-family='"Liberation Sans", sans-serif'>Stress (MPa)</text>
<text transform="translate(226.89 191.73) scale(0.2822 0.2575)" font-size="40" fill="#1e1e1e" stroke="#1e1e1e" stroke-width="0.65" font-family='"Liberation Sans", sans-serif'>(d)</text>
<text transform="translate(370.48 304.08) scale(0.2711 0.2750)" font-size="40" fill="#1e1e1e" stroke="#1e1e1e" stroke-width="0.65" font-family='"Liberation Sans", sans-serif'>d<tspan font-size="28">ε</tspan>/dt=0.005/s</text>
<text transform="translate(21.4 7.07) scale(0.2046 0.2276)" font-size="40" fill="#1e1e1e" stroke="#1e1e1e" stroke-width="0.65" font-family='"Liberation Sans", sans-serif'>20</text>
<text transform="translate(21.4 39.55) scale(0.2046 0.2276)" font-size="40" fill="#1e1e1e" stroke="#1e1e1e" stroke-width="0.65" font-family='"Liberation Sans", sans-serif'>10</text>
<text transform="translate(26.1 72.02) scale(0.2046 0.2276)" font-size="40" fill="#1e1e1e" stroke="#1e1e1e" stroke-width="0.65" font-family='"Liberation Sans", sans-serif'>0</text>
<text transform="translate(18.74 104.5) scale(0.2046 0.2276)" font-size="40" fill="#1e1e1e" stroke="#1e1e1e" stroke-width="0.65" font-family='"Liberation Sans", sans-serif'>-10</text>
<text transform="translate(18.74 136.97) scale(0.2046 0.2276)" font-size="40" fill="#1e1e1e" stroke="#1e1e1e" stroke-width="0.65" font-family='"Liberation Sans", sans-serif'>-20</text>
<text transform="translate(26.85 144.37) scale(0.2046 0.2276)" font-size="40" fill="#1e1e1e" stroke="#1e1e1e" stroke-width="0.65" font-family='"Liberation Sans", sans-serif'>260</text>
<text transform="translate(70.87 144.37) scale(0.2046 0.2276)" font-size="40" fill="#1e1e1e" stroke="#1e1e1e" stroke-width="0.65" font-family='"Liberation Sans", sans-serif'>270</text>
<text transform="translate(114.9 144.37) scale(0.2046 0.2276)" font-size="40" fill="#1e1e1e" stroke="#1e1e1e" stroke-width="0.65" font-family='"Liberation Sans", sans-serif'>280</text>
<text transform="translate(158.92 144.37) scale(0.2046 0.2276)" font-size="40" fill="#1e1e1e" stroke="#1e1e1e" stroke-width="0.65" font-family='"Liberation Sans", sans-serif'>290</text>
<text transform="translate(202.95 144.37) scale(0.2046 0.2276)" font-size="40" fill="#1e1e1e" stroke="#1e1e1e" stroke-width="0.65" font-family='"Liberation Sans", sans-serif'>300</text>
<text transform="translate(251.7 7.37) scale(0.2046 0.2276)" font-size="40" fill="#1e1e1e" stroke="#1e1e1e" stroke-width="0.65" font-family='"Liberation Sans", sans-serif'>20</text>
<text transform="translate(251.7 39.8) scale(0.2046 0.2276)" font-size="40" fill="#1e1e1e" stroke="#1e1e1e" stroke-width="0.65" font-family='"Liberation Sans", sans-serif'>10</text>
<text transform="translate(256.4 72.22) scale(0.2046 0.2276)" font-size="40" fill="#1e1e1e" stroke="#1e1e1e" stroke-width="0.65" font-family='"Liberation Sans", sans-serif'>0</text>
<text transform="translate(249.04 104.65) scale(0.2046 0.2276)" font-size="40" fill="#1e1e1e" stroke="#1e1e1e" stroke-width="0.65" font-family='"Liberation Sans", sans-serif'>-10</text>
<text transform="translate(249.04 137.07) scale(0.2046 0.2276)" font-size="40" fill="#1e1e1e" stroke="#1e1e1e" stroke-width="0.65" font-family='"Liberation Sans", sans-serif'>-20</text>
<text transform="translate(261.75 144.37) scale(0.2046 0.2276)" font-size="40" fill="#1e1e1e" stroke="#1e1e1e" stroke-width="0.65" font-family='"Liberation Sans", sans-serif'>0</text>
<text transform="translate(291 144.37) scale(0.2046 0.2276)" font-size="40" fill="#1e1e1e" stroke="#1e1e1e" stroke-width="0.65" font-family='"Liberation Sans", sans-serif'>1</text>
<text transform="translate(320.45 144.37) scale(0.2046 0.2276)" font-size="40" fill="#1e1e1e" stroke="#1e1e1e" stroke-width="0.65" font-family='"Liberation Sans", sans-serif'>2</text>
<text transform="translate(349.8 144.37) scale(0.2046 0.2276)" font-size="40" fill="#1e1e1e" stroke="#1e1e1e" stroke-width="0.65" font-family='"Liberation Sans", sans-serif'>3</text>
<text transform="translate(379.15 144.37) scale(0.2046 0.2276)" font-size="40" fill="#1e1e1e" stroke="#1e1e1e" stroke-width="0.65" font-family='"Liberation Sans", sans-serif'>4</text>
<text transform="translate(408.5 144.37) scale(0.2046 0.2276)" font-size="40" fill="#1e1e1e" stroke="#1e1e1e" stroke-width="0.65" font-family='"Liberation Sans", sans-serif'>5</text>
<text transform="translate(437.85 144.37) scale(0.2046 0.2276)" font-size="40" fill="#1e1e1e" stroke="#1e1e1e" stroke-width="0.65" font-family='"Liberation Sans", sans-serif'>6</text>
<text transform="translate(21.3 187.12) scale(0.2046 0.2276)" font-size="40" fill="#1e1e1e" stroke="#1e1e1e" stroke-width="0.65" font-family='"Liberation Sans", sans-serif'>20</text>
<text transform="translate(21.3 219.52) scale(0.2046 0.2276)" font-size="40" fill="#1e1e1e" stroke="#1e1e1e" stroke-width="0.65" font-family='"Liberation Sans", sans-serif'>10</text>
<text transform="translate(26 251.92) scale(0.2046 0.2276)" font-size="40" fill="#1e1e1e" stroke="#1e1e1e" stroke-width="0.65" font-family='"Liberation Sans", sans-serif'>0</text>
<text transform="translate(18.64 284.32) scale(0.2046 0.2276)" font-size="40" fill="#1e1e1e" stroke="#1e1e1e" stroke-width="0.65" font-family='"Liberation Sans", sans-serif'>-10</text>
<text transform="translate(18.64 316.72) scale(0.2046 0.2276)" font-size="40" fill="#1e1e1e" stroke="#1e1e1e" stroke-width="0.65" font-family='"Liberation Sans", sans-serif'>-20</text>
<text transform="translate(31.35 324.17) scale(0.2046 0.2276)" font-size="40" fill="#1e1e1e" stroke="#1e1e1e" stroke-width="0.65" font-family='"Liberation Sans", sans-serif'>0</text>
<text transform="translate(53.27 324.17) scale(0.2046 0.2276)" font-size="40" fill="#1e1e1e" stroke="#1e1e1e" stroke-width="0.65" font-family='"Liberation Sans", sans-serif'>1</text>
<text transform="translate(75.4 324.17) scale(0.2046 0.2276)" font-size="40" fill="#1e1e1e" stroke="#1e1e1e" stroke-width="0.65" font-family='"Liberation Sans", sans-serif'>2</text>
<text transform="translate(97.42 324.17) scale(0.2046 0.2276)" font-size="40" fill="#1e1e1e" stroke="#1e1e1e" stroke-width="0.65" font-family='"Liberation Sans", sans-serif'>3</text>
<text transform="translate(119.45 324.17) scale(0.2046 0.2276)" font-size="40" fill="#1e1e1e" stroke="#1e1e1e" stroke-width="0.65" font-family='"Liberation Sans", sans-serif'>4</text>
<text transform="translate(141.47 324.17) scale(0.2046 0.2276)" font-size="40" fill="#1e1e1e" stroke="#1e1e1e" stroke-width="0.65" font-family='"Liberation Sans", sans-serif'>5</text>
<text transform="translate(163.5 324.17) scale(0.2046 0.2276)" font-size="40" fill="#1e1e1e" stroke="#1e1e1e" stroke-width="0.65" font-family='"Liberation Sans", sans-serif'>6</text>
<text transform="translate(185.52 324.17) scale(0.2046 0.2276)" font-size="40" fill="#1e1e1e" stroke="#1e1e1e" stroke-width="0.65" font-family='"Liberation Sans", sans-serif'>7</text>
<text transform="translate(207.55 324.17) scale(0.2046 0.2276)" font-size="40" fill="#1e1e1e" stroke="#1e1e1e" stroke-width="0.65" font-family='"Liberation Sans", sans-serif'>8</text>
<text transform="translate(256.4 317.37) scale(0.2046 0.2276)" font-size="40" fill="#1e1e1e" stroke="#1e1e1e" stroke-width="0.65" font-family='"Liberation Sans", sans-serif'>0</text>
<text transform="translate(247.2 285.02) scale(0.2046 0.2276)" font-size="40" fill="#1e1e1e" stroke="#1e1e1e" stroke-width="0.65" font-family='"Liberation Sans", sans-serif'>200</text>
<text transform="translate(247.2 252.67) scale(0.2046 0.2276)" font-size="40" fill="#1e1e1e" stroke="#1e1e1e" stroke-width="0.65" font-family='"Liberation Sans", sans-serif'>400</text>
<text transform="translate(247.2 220.32) scale(0.2046 0.2276)" font-size="40" fill="#1e1e1e" stroke="#1e1e1e" stroke-width="0.65" font-family='"Liberation Sans", sans-serif'>600</text>
<text transform="translate(247.2 187.97) scale(0.2046 0.2276)" font-size="40" fill="#1e1e1e" stroke="#1e1e1e" stroke-width="0.65" font-family='"Liberation Sans", sans-serif'>800</text>
<text transform="translate(261.75 324.17) scale(0.2046 0.2276)" font-size="40" fill="#1e1e1e" stroke="#1e1e1e" stroke-width="0.65" font-family='"Liberation Sans", sans-serif'>0</text>
<text transform="translate(283.66 324.17) scale(0.2046 0.2276)" font-size="40" fill="#1e1e1e" stroke="#1e1e1e" stroke-width="0.65" font-family='"Liberation Sans", sans-serif'>1</text>
<text transform="translate(305.77 324.17) scale(0.2046 0.2276)" font-size="40" fill="#1e1e1e" stroke="#1e1e1e" stroke-width="0.65" font-family='"Liberation Sans", sans-serif'>2</text>
<text transform="translate(327.79 324.17) scale(0.2046 0.2276)" font-size="40" fill="#1e1e1e" stroke="#1e1e1e" stroke-width="0.65" font-family='"Liberation Sans", sans-serif'>3</text>
<text transform="translate(349.8 324.17) scale(0.2046 0.2276)" font-size="40" fill="#1e1e1e" stroke="#1e1e1e" stroke-width="0.65" font-family='"Liberation Sans", sans-serif'>4</text>
<text transform="translate(371.81 324.17) scale(0.2046 0.2276)" font-size="40" fill="#1e1e1e" stroke="#1e1e1e" stroke-width="0.65" font-family='"Liberation Sans", sans-serif'>5</text>
<text transform="translate(393.82 324.17) scale(0.2046 0.2276)" font-size="40" fill="#1e1e1e" stroke="#1e1e1e" stroke-width="0.65" font-family='"Liberation Sans", sans-serif'>6</text>
<text transform="translate(415.84 324.17) scale(0.2046 0.2276)" font-size="40" fill="#1e1e1e" stroke="#1e1e1e" stroke-width="0.65" font-family='"Liberation Sans", sans-serif'>7</text>
<text transform="translate(437.85 324.17) scale(0.2046 0.2276)" font-size="40" fill="#1e1e1e" stroke="#1e1e1e" stroke-width="0.65" font-family='"Liberation Sans", sans-serif'>8</text>
</svg></body></html>
